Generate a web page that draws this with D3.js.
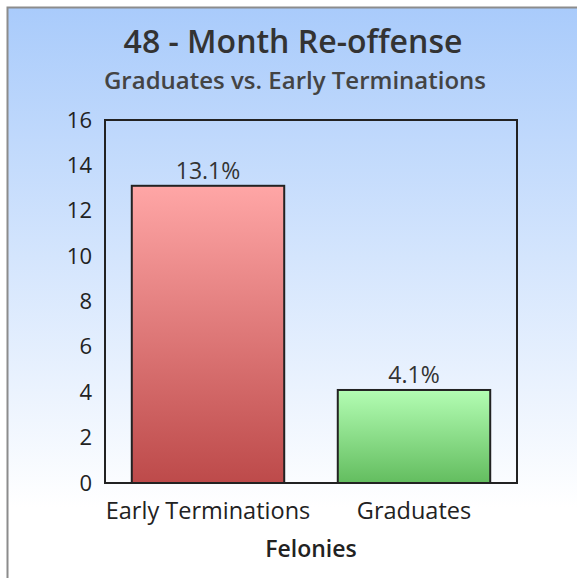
<!DOCTYPE html>
<html>
<head>
<meta charset="utf-8">
<script src="https://cdn.jsdelivr.net/npm/d3@7"></script>
<style>
  body { margin: 0; background: #fff; }
  svg { display: block; font-family: "Open Sans", "Noto Sans", sans-serif; }
</style>
</head>
<body>
<div id="wrapper"></div>
<script>
// data
const categories = ["Early Terminations", "Graduates"];
const values = [13.1, 4.1];
const valueLabels = ["13.1%", "4.1%"];
const yTicks = [0, 2, 4, 6, 8, 10, 12, 14, 16];

const width = 577, height = 578;
const margin = { top: 120, right: 60, bottom: 95, left: 105 };
const innerW = width - margin.left - margin.right;
const innerH = height - margin.top - margin.bottom;

const svg = d3.select("#wrapper").append("svg")
  .attr("width", width).attr("height", height);

const defs = svg.append("defs");
const bg = defs.append("linearGradient").attr("id", "bg").attr("x1", 0).attr("y1", 0).attr("x2", 0).attr("y2", 1);
bg.append("stop").attr("offset", "0%").attr("stop-color", "#a9cbfb");
bg.append("stop").attr("offset", "85%").attr("stop-color", "#ffffff");
bg.append("stop").attr("offset", "100%").attr("stop-color", "#ffffff");

const red = defs.append("linearGradient").attr("id", "red").attr("x1", 0).attr("y1", 0).attr("x2", 0).attr("y2", 1);
red.append("stop").attr("offset", "0%").attr("stop-color", "#ffa6a6");
red.append("stop").attr("offset", "100%").attr("stop-color", "#bd4a4a");

const green = defs.append("linearGradient").attr("id", "green").attr("x1", 0).attr("y1", 0).attr("x2", 0).attr("y2", 1);
green.append("stop").attr("offset", "0%").attr("stop-color", "#b3fdb3");
green.append("stop").attr("offset", "100%").attr("stop-color", "#63bd5f");

const fills = ["url(#red)", "url(#green)"];

// background panel
svg.append("rect")
  .attr("x", 7.5).attr("y", 7.5)
  .attr("width", width + 10).attr("height", height + 10)
  .attr("fill", "url(#bg)")
  .attr("stroke", "#8c8c8c").attr("stroke-width", 2);

// titles
svg.append("text")
  .attr("x", 293).attr("y", 53)
  .attr("text-anchor", "middle")
  .attr("font-size", 32).attr("font-weight", 600)
  .attr("fill", "#333")
  .text("48 - Month Re-offense");

svg.append("text")
  .attr("x", 295).attr("y", 89)
  .attr("text-anchor", "middle")
  .attr("font-size", 24).attr("font-weight", 600)
  .attr("fill", "#444")
  .text("Graduates vs. Early Terminations");

const g = svg.append("g").attr("transform", `translate(${margin.left},${margin.top})`);

const x = d3.scaleBand().domain(categories).range([0, innerW]).paddingInner(0.26).paddingOuter(0.13);
const y = d3.scaleLinear().domain([0, 16]).range([innerH, 0]);

// plot frame
g.append("rect")
  .attr("x", 0).attr("y", 0).attr("width", innerW).attr("height", innerH)
  .attr("fill", "none").attr("stroke", "#222").attr("stroke-width", 2);

// bars
g.append("g").selectAll("rect")
  .data(values)
  .join("rect")
  .attr("x", (d, i) => x(categories[i]))
  .attr("y", d => y(d))
  .attr("width", x.bandwidth())
  .attr("height", d => innerH - y(d))
  .attr("fill", (d, i) => fills[i])
  .attr("stroke", "#222").attr("stroke-width", 2);

// value labels
g.append("g").selectAll("text")
  .data(values)
  .join("text")
  .attr("x", (d, i) => x(categories[i]) + x.bandwidth() / 2)
  .attr("y", d => y(d) - 7)
  .attr("text-anchor", "middle")
  .attr("font-size", 23)
  .attr("fill", "#333")
  .text((d, i) => valueLabels[i]);

// y axis
const yAxis = g.append("g").call(d3.axisLeft(y).tickValues(yTicks).tickSize(0).tickPadding(13));
yAxis.select(".domain").remove();
yAxis.selectAll("text").attr("font-size", 22).attr("fill", "#222").attr("font-family", "Open Sans, sans-serif");

// x axis
const xAxis = g.append("g").attr("transform", `translate(0,${innerH})`)
  .call(d3.axisBottom(x).tickSize(0).tickPadding(19));
xAxis.select(".domain").remove();
xAxis.selectAll("text").attr("font-size", 23.5).attr("fill", "#222").attr("font-family", "Open Sans, sans-serif");

// x axis title
svg.append("text")
  .attr("x", margin.left + innerW / 2).attr("y", 557)
  .attr("text-anchor", "middle")
  .attr("font-size", 23).attr("font-weight", 600)
  .attr("fill", "#222")
  .text("Felonies");
</script>
</body>
</html>
